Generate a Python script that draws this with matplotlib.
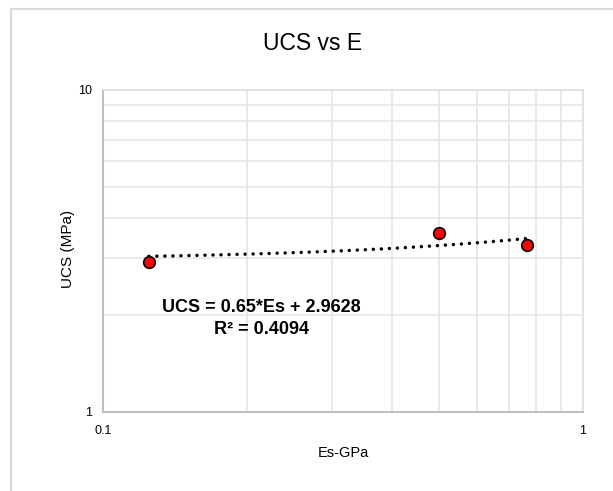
import numpy as np
import matplotlib
matplotlib.use("Agg")
import matplotlib.pyplot as plt
from matplotlib.patches import Rectangle
from matplotlib.ticker import FixedLocator, FixedFormatter, NullFormatter

plt.rcParams["font.family"] = ["Liberation Sans", "DejaVu Sans"]

# data
es_gpa = [0.1246, 0.502, 0.765]
ucs_mpa = [2.92, 3.60, 3.30]
slope = 0.65
intercept = 2.9628
r_squared = 0.4094
x_ticks = [0.1, 1]
x_labels = ["0.1", "1"]
y_ticks = [1, 10]
y_labels = ["1", "10"]

W, H = 613, 491
fig = plt.figure(figsize=(W / 100, H / 100), dpi=100)
ax = fig.add_axes([103 / W, 1 - 412 / H, 480 / W, 322 / H])

# outer chart border (Excel style)
fig.patches.append(Rectangle((11 / W, -0.1), 1.2, 1 - 9 / H + 0.1,
                             transform=fig.transFigure, fill=False,
                             edgecolor="#d9d9d9", linewidth=1.5))

ax.set_xscale("log")
ax.set_yscale("log")
ax.set_xlim(0.1, 1)
ax.set_ylim(1, 10)

# trendline (linear fit drawn on log axes)
xt = np.linspace(min(es_gpa), max(es_gpa), 50)
ax.plot(xt, slope * xt + intercept, color="black", linewidth=2.5,
        linestyle=(0, (0.01, 2.3)), dash_capstyle="round", zorder=3)

ax.scatter(es_gpa, ucs_mpa, s=70, color="#ff0000", edgecolor="black",
           linewidth=1.2, zorder=4)

ax.xaxis.set_major_locator(FixedLocator(x_ticks))
ax.xaxis.set_major_formatter(FixedFormatter(x_labels))
ax.xaxis.set_minor_formatter(NullFormatter())
ax.yaxis.set_major_locator(FixedLocator(y_ticks))
ax.yaxis.set_major_formatter(FixedFormatter(y_labels))
ax.yaxis.set_minor_formatter(NullFormatter())
ax.tick_params(which="both", length=0, labelsize=9, labelcolor="black")
ax.tick_params(axis="x", pad=9)
ax.tick_params(axis="y", pad=8)

ax.grid(True, which="both", color="#e6e6e6", linewidth=1.2)
ax.set_axisbelow(True)
for side in ["top", "right"]:
    ax.spines[side].set_color("#e0e0e0")
    ax.spines[side].set_linewidth(1.2)
for side in ["left", "bottom"]:
    ax.spines[side].set_color("#bfbfbf")
    ax.spines[side].set_linewidth(1.5)

fig.text(313 / W, 1 - 43 / H, "UCS vs E", ha="center", va="center",
         fontsize=16.5)
fig.text(343 / W, 1 - 453 / H, "Es-GPa", ha="center", va="center",
         fontsize=10.5)
fig.text(68 / W, 1 - 249 / H, "UCS (MPa)", ha="center", va="center",
         rotation=90, fontsize=11)

fig.text(261 / W, 1 - 308 / H, "UCS = %g*Es + %g" % (slope, intercept),
         ha="center", va="center", fontsize=13, fontweight="bold")
fig.text(261 / W, 1 - 329 / H, "R² = %g" % r_squared,
         ha="center", va="center", fontsize=13, fontweight="bold")

fig.savefig("out.png", dpi=100)
